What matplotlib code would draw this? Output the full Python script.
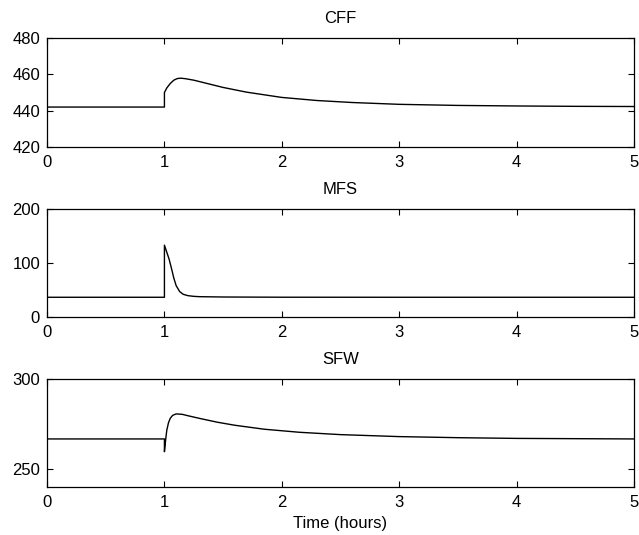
import matplotlib
matplotlib.use("Agg")
import matplotlib.pyplot as plt

plt.rcParams["font.family"] = ["Liberation Sans", "DejaVu Sans"]
plt.rcParams["font.size"] = 12

# values (time in hours)
cff_t = [0, 1.0, 1.0, 1.02, 1.05, 1.08, 1.11, 1.14, 1.18, 1.25, 1.35, 1.5,
         1.7, 2.0, 2.3, 2.6, 3.0, 3.5, 4.0, 4.5, 5.0]
cff_v = [442, 442, 450, 452.5, 455, 456.8, 457.7, 457.9, 457.6, 456.8, 455.2,
         452.8, 450.2, 447.3, 445.6, 444.5, 443.5, 442.9, 442.6, 442.4, 442.3]

mfs_t = [0, 1.0, 1.0, 1.02, 1.04, 1.06, 1.08, 1.10, 1.13, 1.16, 1.2, 1.25,
         1.3, 1.5, 2.0, 3.0, 5.0]
mfs_v = [36.5, 36.5, 133, 120, 107, 90, 72, 58, 47, 42, 39.5, 38.2,
         37.6, 37, 36.6, 36.5, 36.5]

sfw_t = [0, 1.0, 1.0, 1.01, 1.02, 1.035, 1.05, 1.07, 1.1, 1.15, 1.2, 1.3,
         1.45, 1.6, 1.85, 2.15, 2.5, 3.0, 3.5, 4.0, 5.0]
sfw_v = [266.7, 266.7, 259.6, 266, 271.5, 275.8, 278.2, 279.8, 280.6, 280.4,
         279.6, 278.1, 276, 274.3, 272.1, 270.4, 269.1, 268, 267.4, 267.0, 266.7]

titles = ["CFF", "MFS", "SFW"]
ylims = [(420, 480), (0, 200), (240, 300)]
yticks = [[420, 440, 460, 480], [0, 100, 200], [250, 300]]
xticks = [0, 1, 2, 3, 4, 5]


def panel(fig, rect, t, v, title, ylim, yt):
    ax = fig.add_axes(rect)
    ax.plot(t, v, color="black", linewidth=1.0)
    ax.set_xlim(0, 5)
    ax.set_ylim(*ylim)
    ax.set_xticks(xticks)
    ax.set_yticks(yt)
    ax.tick_params(direction="in", top=True, right=True, length=4, width=0.8, pad=5)
    ax.tick_params(axis="x", pad=6)
    for s in ax.spines.values():
        s.set_linewidth(0.9)
    ax.set_title(title, fontsize=12, pad=10.5)
    return ax


def main():
    fig = plt.figure(figsize=(6.39, 5.35), dpi=100)
    left, width = 0.0736, 0.9186
    bottoms = [0.7252, 0.4075, 0.0897]
    heights = [0.2037, 0.2019, 0.2019]
    data = [(cff_t, cff_v), (mfs_t, mfs_v), (sfw_t, sfw_v)]
    ax = None
    for i in range(3):
        ax = panel(fig, [left, bottoms[i], width, heights[i]], data[i][0], data[i][1],
                   titles[i], ylims[i], yticks[i])
    ax.set_xlabel("Time (hours)", labelpad=4)
    fig.savefig("out.png", dpi=100)


if __name__ == "__main__":
    main()
